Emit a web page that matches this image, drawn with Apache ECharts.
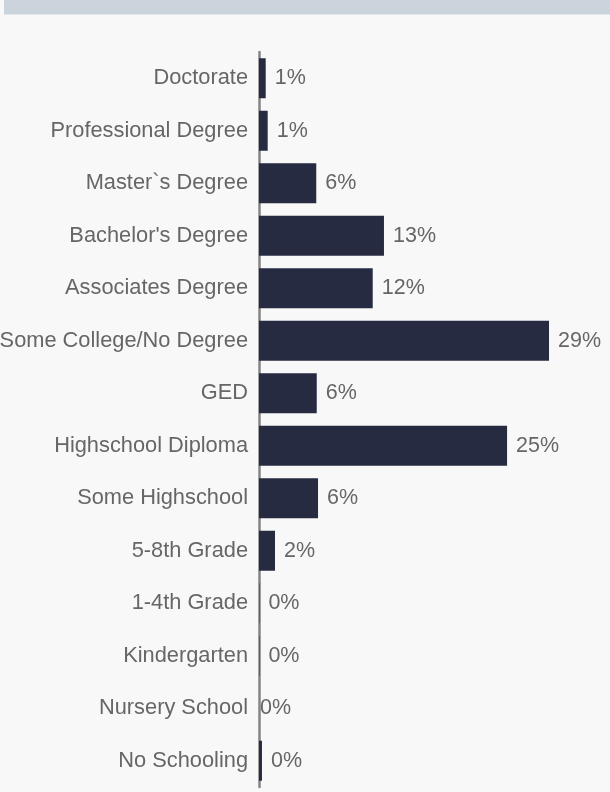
<!DOCTYPE html>
<html>
<head>
<meta charset="utf-8">
<script src="https://cdn.jsdelivr.net/npm/echarts@6/dist/echarts.min.js"></script>
<style>
  html, body { margin: 0; padding: 0; background: #f8f8f8; }
  #chart { width: 610px; height: 792px; }
</style>
</head>
<body>
<div id="chart"></div>
<script>
// education levels, top to bottom
const categories = [
  'Doctorate', 'Professional Degree', 'Master`s Degree', "Bachelor's Degree",
  'Associates Degree', 'Some College/No Degree', 'GED', 'Highschool Diploma',
  'Some Highschool', '5-8th Grade', '1-4th Grade', 'Kindergarten',
  'Nursery School', 'No Schooling'
]
// share in percent
const shares = [0.68, 0.88, 5.8, 12.66, 11.52, 29.38, 5.85, 25.13, 5.98, 1.62, 0.04, 0.04, 0, 0.3]

const chart = echarts.init(document.getElementById('chart'))

const font = 'Liberation Sans, Arial, Helvetica, sans-serif'

const option = {
  backgroundColor: '#f8f8f8',
  animation: false,
  graphic: [{
    type: 'rect',
    left: 4,
    top: 0,
    shape: { width: 606, height: 14.6 },
    style: { fill: '#cbd3dc' }
  }],
  grid: {
    left: 259,
    top: 52,
    width: 345.5,
    bottom: 5,
    // long labels are allowed to run off the left edge
    outerBoundsMode: 'none',
    containLabel: false
  },
  xAxis: {
    type: 'value',
    min: 0,
    max: 35,
    show: false
  },
  yAxis: {
    type: 'category',
    inverse: true,
    data: categories,
    offset: 2,
    axisLine: {
      show: true,
      lineStyle: { color: '#858585', width: 2.5 }
    },
    axisTick: { show: false },
    axisLabel: {
      margin: 9,
      color: '#666',
      fontSize: 21.8,
      fontFamily: font
    }
  },
  series: [{
    type: 'bar',
    barWidth: 40,
    itemStyle: { color: '#262b42' },
    label: {
      show: true,
      position: 'right',
      distance: 9,
      color: '#666',
      fontSize: 21.5,
      fontFamily: font,
      formatter: p => Math.round(p.value) + '%'
    },
    data: shares.map((v, i) => {
      // the nursery label sits tight against the axis in the original
      if (categories[i] === 'Nursery School') {
        return { value: v, label: { distance: 1 } }
      }
      return v
    })
  }]
}

chart.setOption(option)
</script>
</body>
</html>
